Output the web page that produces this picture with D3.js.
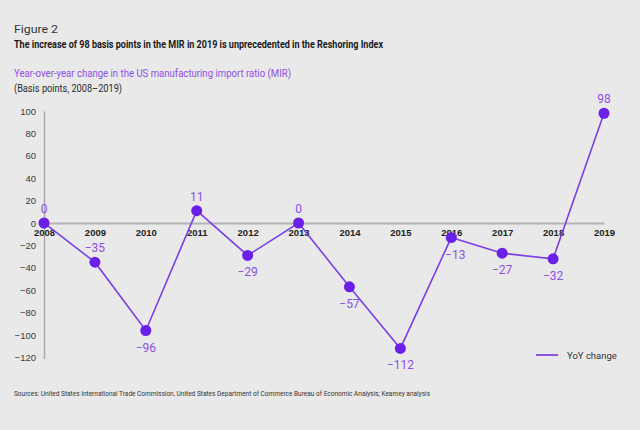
<!DOCTYPE html>
<html>
<head>
<meta charset="utf-8">
<script src="https://cdn.jsdelivr.net/npm/d3@7"></script>
<style>
  html, body { margin: 0; padding: 0; background: #e9e9e9; }
  svg { display: block; font-family: Roboto, "Noto Sans", sans-serif; }
</style>
</head>
<body>
<svg id="chart" width="640" height="430"></svg>
<script>
const years = ["2008","2009","2010","2011","2012","2013","2014","2015","2016","2017","2018","2019"];
const yoyChange = [0, -35, -96, 11, -29, 0, -57, -112, -13, -27, -32, 98];
const yTicks = [-120, -100, -80, -60, -40, -20, 0, 20, 40, 60, 80, 100];

const svg = d3.select("#chart");
const W = 640, H = 430;
svg.append("rect").attr("width", W).attr("height", H).attr("fill", "#e9e9e9");

// Titles
function fitText(sel, len) { sel.attr("textLength", len).attr("lengthAdjust", "spacingAndGlyphs"); return sel; }
fitText(svg.append("text").attr("x", 14).attr("y", 33).attr("font-size", 11).attr("fill", "#333").text("Figure 2"), 44);
fitText(svg.append("text").attr("x", 14).attr("y", 48).attr("font-size", 11.5).attr("font-weight", "bold").attr("fill", "#1a1a1a")
  .text("The increase of 98 basis points in the MIR in 2019 is unprecedented in the Reshoring Index"), 369);
fitText(svg.append("text").attr("x", 14).attr("y", 77).attr("font-size", 11.5).attr("fill", "#8e4fe6")
  .text("Year-over-year change in the US manufacturing import ratio (MIR)"), 277);
fitText(svg.append("text").attr("x", 14).attr("y", 92).attr("font-size", 11.5).attr("fill", "#2a2a2a")
  .text("(Basis points, 2008\u20132019)"), 108);
fitText(svg.append("text").attr("x", 14).attr("y", 396).attr("font-size", 8).attr("fill", "#333")
  .text("Sources: United States International Trade Commission, United States Department of Commerce Bureau of Economic Analysis; Kearney analysis"), 416);

// Scales
const x = d3.scalePoint().domain(years).range([44, 604]);
const y = d3.scaleLinear().domain([-121, 100]).range([358.5, 111]);

// Y axis
const yAxis = svg.append("g").attr("transform", "translate(44,0)")
  .call(d3.axisLeft(y).tickValues(yTicks).tickSize(0).tickPadding(8).tickSizeOuter(0));
yAxis.select(".domain").attr("stroke", "#a8a8a8").attr("stroke-width", 1.5);
yAxis.selectAll("text").attr("font-size", 9.5).attr("fill", "#3a3a3a");

// X axis (zero line)
const xAxis = svg.append("g").attr("transform", `translate(0,${y(0)})`)
  .call(d3.axisBottom(x).tickSize(0).tickPadding(6).tickSizeOuter(0));
xAxis.select(".domain").attr("stroke", "#b4b4b4").attr("stroke-width", 2);
xAxis.selectAll("text").attr("font-size", 9.5).attr("font-weight", "bold").attr("fill", "#222");

const data = years.map((yr, i) => ({ year: yr, value: yoyChange[i] }));

// Line
svg.append("path").datum(data)
  .attr("fill", "none").attr("stroke", "#7b3fe4").attr("stroke-width", 1.6)
  .attr("d", d3.line().x(d => x(d.year)).y(d => y(d.value)));

// Points
svg.selectAll("circle.pt").data(data).join("circle")
  .attr("class", "pt")
  .attr("cx", d => x(d.year)).attr("cy", d => y(d.value)).attr("r", 5.5)
  .attr("fill", "#6d1fea");

// Value labels
const above = new Set(["2008", "2009", "2011", "2013", "2019"]);
svg.selectAll("text.val").data(data).join("text")
  .attr("class", "val")
  .attr("x", d => x(d.year) + (d.year === "2016" ? 4 : 0))
  .attr("y", d => above.has(d.year) ? y(d.value) - 10 : y(d.value) + 21)
  .attr("text-anchor", "middle")
  .attr("font-size", 12).attr("fill", "#8e4fe6")
  .text(d => d.value < 0 ? "\u2212" + Math.abs(d.value) : d.value);

// Legend
svg.append("line").attr("x1", 536).attr("x2", 558).attr("y1", 355).attr("y2", 355)
  .attr("stroke", "#8e55e8").attr("stroke-width", 2);
svg.append("text").attr("x", 567).attr("y", 358.5).attr("font-size", 9.5).attr("fill", "#333").text("YoY change");
</script>
</body>
</html>
